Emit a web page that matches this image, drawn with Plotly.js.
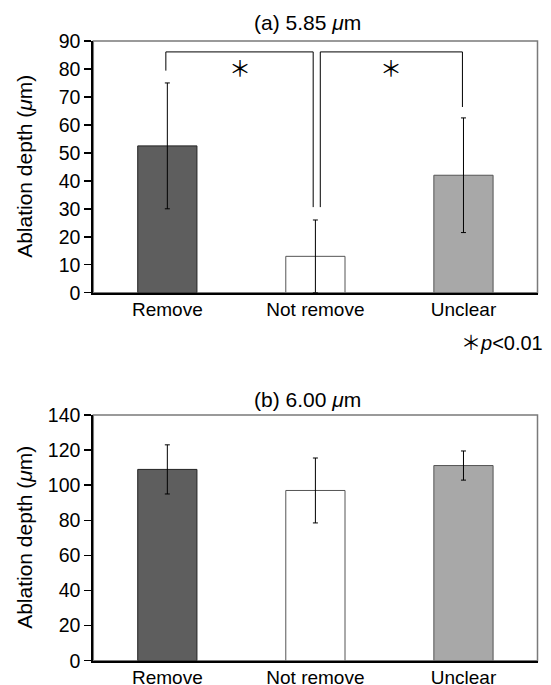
<!DOCTYPE html>
<html>
<head>
<meta charset="utf-8">
<script src="https://cdn.plot.ly/plotly-3.0.1.min.js"></script>
<style>html,body{margin:0;padding:0;background:#fff;}#chart{width:551px;height:685px;}</style>
</head>
<body>
<div id="chart"></div>
<script>
// Data
const categories = ["Remove", "Not remove", "Unclear"];
const depthA = [52.5, 13.0, 42.0];
const errA = [22.5, 13.0, 20.5];
const depthB = [109.0, 97.0, 111.2];
const errB = [14.0, 18.5, 8.3];
const barColors = ["#5e5e5e", "#ffffff", "#a8a8a8"];
const barLines = ["#222222", "#555555", "#555555"];
// significance brackets (a): [leftIdx, rightIdx, leftEndY, topY, rightEndY]
const brackets = [
  [-0.01, 0.985, 79.4, 86.1, 30.6],
  [1.033, 1.993, 30.6, 86.1, 66.4]
];
const starPos = [0.49, 1.51];
const starY = 81.2;

const FONT = "Liberation Sans, Arial, sans-serif";
const STARFONT = "Noto Sans CJK JP, DejaVu Sans, sans-serif";
const W = 551, H = 685;
const xd = [93.3/W, 537.5/W];
const ydA = [1 - 292.7/H, 1 - 41/H];
const ydB = [1 - 660.7/H, 1 - 415/H];

function barTrace(vals, errs, xa, ya) {
  return {
    type: "bar", x: categories, y: vals, xaxis: xa, yaxis: ya,
    width: 0.4,
    marker: {color: barColors, line: {color: barLines, width: 1}},
    error_y: {type: "data", array: errs, visible: true, color: "#000", thickness: 1, width: 2.5},
    showlegend: false, hoverinfo: "skip"
  };
}

const data = [barTrace(depthA, errA, "x", "y"), barTrace(depthB, errB, "x2", "y2")];

const axX = (dom, anchor) => ({
  domain: dom, anchor: anchor, type: "category", showgrid: false,
  showline: true, linecolor: "#000", linewidth: 2, ticks: "", ticklabelstandoff: -2,
  tickfont: {family: FONT, size: 19, color: "#000"}, zeroline: false, fixedrange: true
});
const axY = (dom, anchor, range, dtick) => ({
  domain: dom, anchor: anchor, range: range, dtick: dtick, showgrid: false,
  showline: true, linecolor: "#000", linewidth: 2, ticks: "outside", ticklen: 7, tickwidth: 1.5,
  tickcolor: "#000", tickfont: {family: FONT, size: 19.5, color: "#000"}, zeroline: false, fixedrange: true
});

const shapes = [];
[ydA, ydB].forEach(yd => {
  shapes.push({type: "rect", xref: "paper", yref: "paper", x0: xd[0], x1: xd[1], y0: yd[0], y1: yd[1],
    line: {color: "#7a7a7a", width: 1.5}, layer: "below"});
});
brackets.forEach(b => {
  const ln = {color: "#000", width: 1};
  shapes.push({type: "line", xref: "x", yref: "y", x0: b[0], x1: b[0], y0: b[2], y1: b[3], line: ln});
  shapes.push({type: "line", xref: "x", yref: "y", x0: b[0], x1: b[1], y0: b[3], y1: b[3], line: ln});
  shapes.push({type: "line", xref: "x", yref: "y", x0: b[1], x1: b[1], y0: b[3], y1: b[4], line: ln});
});

const ann = (o) => Object.assign({xref: "paper", yref: "paper", showarrow: false, xanchor: "center", yanchor: "middle"}, o);
const annotations = [
  ann({text: "(a) 5.85 <i>μ</i>m", x: 307/W, y: 1 - 22/H, font: {family: FONT, size: 21, color: "#000"}}),
  ann({text: "(b) 6.00 <i>μ</i>m", x: 307/W, y: 1 - 400/H, font: {family: FONT, size: 21, color: "#000"}}),
  ann({text: "Ablation depth (<i>μ</i>m)", x: 25/W, y: (ydA[0]+ydA[1])/2, textangle: -90,
       font: {family: FONT, size: 21, color: "#000"}}),
  ann({text: "Ablation depth (<i>μ</i>m)", x: 25/W, y: (ydB[0]+ydB[1])/2, textangle: -90,
       font: {family: FONT, size: 21, color: "#000"}}),
  ann({text: "<span style='font-family:Noto Sans CJK JP'>＊</span><i>p</i>&lt;0.01", x: 545/W, xanchor: "right",
       y: 1 - 341/H, font: {family: FONT, size: 20, color: "#000"}})
];
starPos.forEach(p => annotations.push({text: "＊", xref: "x", yref: "y", x: p, y: starY, yanchor: "middle",
  showarrow: false, font: {family: STARFONT, size: 22, color: "#000"}}));

const layout = {
  width: W, height: H, margin: {l: 0, r: 0, t: 0, b: 0},
  paper_bgcolor: "#fff", plot_bgcolor: "#fff",
  xaxis: axX(xd, "y"), yaxis: axY(ydA, "x", [0, 90], 10),
  xaxis2: axX(xd, "y2"), yaxis2: axY(ydB, "x2", [0, 140], 20),
  shapes: shapes, annotations: annotations, bargap: 0.6
};

Plotly.newPlot("chart", data, layout, {displayModeBar: false, staticPlot: true});
</script>
</body>
</html>
